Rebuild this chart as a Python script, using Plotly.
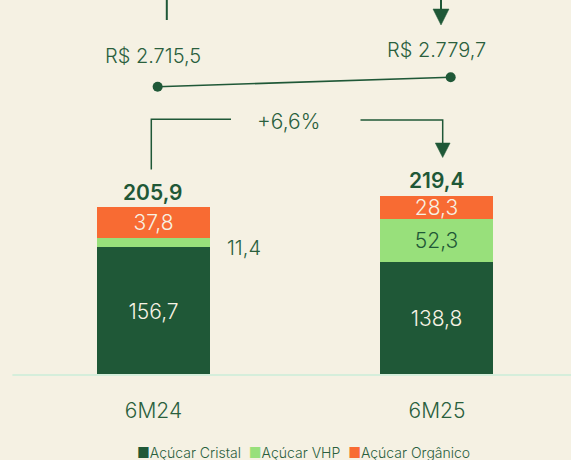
import plotly.graph_objects as go

# ---- data ----
categories = ["6M24", "6M25"]
cristal = [156.7, 138.8]
vhp = [11.4, 52.3]
organico = [37.8, 28.3]
precos = [2715.5, 2779.7]
series_names = ["Açúcar Cristal", "Açúcar VHP", "Açúcar Orgânico"]

# ---- style ----
BG = "#f5f1e3"
DARK = "#1f5837"
LIGHT = "#98e07b"
ORANGE = "#f86b33"
TXT = "#2a5f3d"
CREAM = "#f7f2e4"
FONT = "Inter"
LW = 300  # light weight for regular text

W, H = 571, 460
PLOT_H = 375  # plot area height in px (top margin 0)


def br(v, d=1):
    s = f"{v:,.{d}f}"
    return s.replace(",", "X").replace(".", ",").replace("X", ".")


def px(x):
    return x / W


def py(y):
    return (PLOT_H - y) / PLOT_H


totals = [a + b + c for a, b, c in zip(cristal, vhp, organico)]
growth = (totals[1] / totals[0] - 1) * 100

fig = go.Figure()

fig.add_trace(go.Bar(
    x=categories, y=cristal, name=series_names[0], marker_color=DARK,
    marker_line_width=0, text=[br(v) for v in cristal], textposition="inside",
    insidetextanchor="middle", textfont=dict(color=CREAM, size=21, family=FONT, weight=LW),
    width=0.3986, showlegend=False))
fig.add_trace(go.Bar(
    x=categories, y=vhp, name=series_names[1], marker_color=LIGHT,
    marker_line_width=0, text=["", br(vhp[1])], textposition="inside",
    insidetextanchor="middle", textfont=dict(color=DARK, size=21, family=FONT, weight=LW),
    width=0.3986, showlegend=False))
fig.add_trace(go.Bar(
    x=categories, y=organico, name=series_names[2], marker_color=ORANGE,
    marker_line_width=0, text=[br(v) for v in organico], textposition="inside",
    insidetextanchor="middle", textfont=dict(color=CREAM, size=21, family=FONT, weight=LW),
    width=0.3986, showlegend=False))

# price line
fig.add_trace(go.Scatter(
    x=categories, y=precos, xaxis="x2", yaxis="y2", mode="lines+markers",
    line=dict(color=DARK, width=1.6), marker=dict(color=DARK, size=10),
    showlegend=False, hoverinfo="skip"))

ann = []
# totals
for c, t in zip(categories, totals):
    ann.append(dict(x=c, y=t, xref="x", yref="y", text=br(t),
                    showarrow=False, yanchor="middle", yshift=15,
                    font=dict(size=21, color=DARK, family=FONT, weight=600)))
# outside VHP label for 6M24
ann.append(dict(x=categories[0], y=cristal[0] + vhp[0] / 2, xref="x", yref="y",
                text=br(vhp[0]), showarrow=False, xanchor="center", yanchor="middle",
                xshift=91, yshift=-6, font=dict(size=20, color=TXT, family=FONT, weight=LW)))
# price labels
for c, p, ys in zip(categories, precos, [31, 27.5]):
    ann.append(dict(x=c, y=p, xref="x", yref="y2", text="R$ " + br(p),
                    showarrow=False, yanchor="middle", yshift=ys,
                    font=dict(size=20, color=TXT, family=FONT, weight=LW)))
# growth label
ann.append(dict(x=px(288), y=py(121), xref="paper", yref="paper",
                text=("+" if growth >= 0 else "") + br(growth) + "%",
                showarrow=False, yanchor="middle",
                font=dict(size=21, color=TXT, family=FONT, weight=LW)))
# legend (custom, compact)
colors = [DARK, LIGHT, ORANGE]
leg = "&nbsp;&nbsp;".join(
    f"<span style='color:{col}'>■</span>{n}" for col, n in zip(colors, series_names))
ann.append(dict(x=px(303.5), y=py(452.7), xref="paper", yref="paper", text=leg,
                showarrow=False, yanchor="middle",
                font=dict(size=14, color=TXT, family=FONT, weight=LW)))


def path(points, close=False):
    s = "M " + " L ".join(f"{px(x)},{py(y)}" for x, y in points)
    return s + (" Z" if close else "")


shapes = [
    # axis baseline
    dict(type="line", xref="paper", yref="paper", x0=px(12.4), x1=1, y0=py(375), y1=py(375),
         line=dict(color="#d5eedb", width=2)),
    # bracket left
    dict(type="path", xref="paper", yref="paper",
         path=path([(151.3, 169.5), (151.3, 119.3), (231, 119.3)]),
         line=dict(color=DARK, width=1.5)),
    # bracket right
    dict(type="path", xref="paper", yref="paper",
         path=path([(360.5, 120), (442.7, 120), (442.7, 145)]),
         line=dict(color=DARK, width=1.5)),
    dict(type="path", xref="paper", yref="paper",
         path=path([(435.3, 143), (450.1, 143), (442.7, 157.5)], close=True),
         fillcolor=DARK, line=dict(color=DARK, width=0.5)),
    # top remnants
    dict(type="line", xref="paper", yref="paper", x0=px(166.8), x1=px(166.8),
         y0=py(-2), y1=py(20), line=dict(color=DARK, width=2)),
    dict(type="line", xref="paper", yref="paper", x0=px(441), x1=px(441),
         y0=py(-2), y1=py(12), line=dict(color=DARK, width=2)),
    dict(type="path", xref="paper", yref="paper",
         path=path([(433, 9), (449, 9), (441, 25)], close=True),
         fillcolor=DARK, line=dict(color=DARK, width=0.5)),
]

fig.update_layout(
    width=W, height=H, paper_bgcolor=BG, plot_bgcolor=BG,
    margin=dict(l=0, r=0, t=0, b=H - PLOT_H, pad=0),
    barmode="stack", bargap=0,
    uniformtext=dict(minsize=21, mode="show"),
    font=dict(family=FONT, color=TXT),
    xaxis=dict(type="category", range=[-0.5414, 1.4727], showgrid=False,
               zeroline=False, showline=False, ticks="outside", ticklen=17,
               tickcolor="rgba(0,0,0,0)",
               tickfont=dict(size=21, color=TXT, family=FONT, weight=LW),
               fixedrange=True),
    yaxis=dict(range=[0, 459.6], visible=False, fixedrange=True),
    xaxis2=dict(type="category", overlaying="x", range=[-0.538, 1.4106],
                visible=False, fixedrange=True),
    yaxis2=dict(overlaying="y", range=[746.5, 3307.6], visible=False, fixedrange=True),
    annotations=ann, shapes=shapes, showlegend=False,
)

fig.write_html(
    "out.html",
    config={"displayModeBar": False},
    post_script="document.body.style.margin='0';document.body.style.overflow='hidden';"
                f"document.body.style.background='{BG}';",
)
